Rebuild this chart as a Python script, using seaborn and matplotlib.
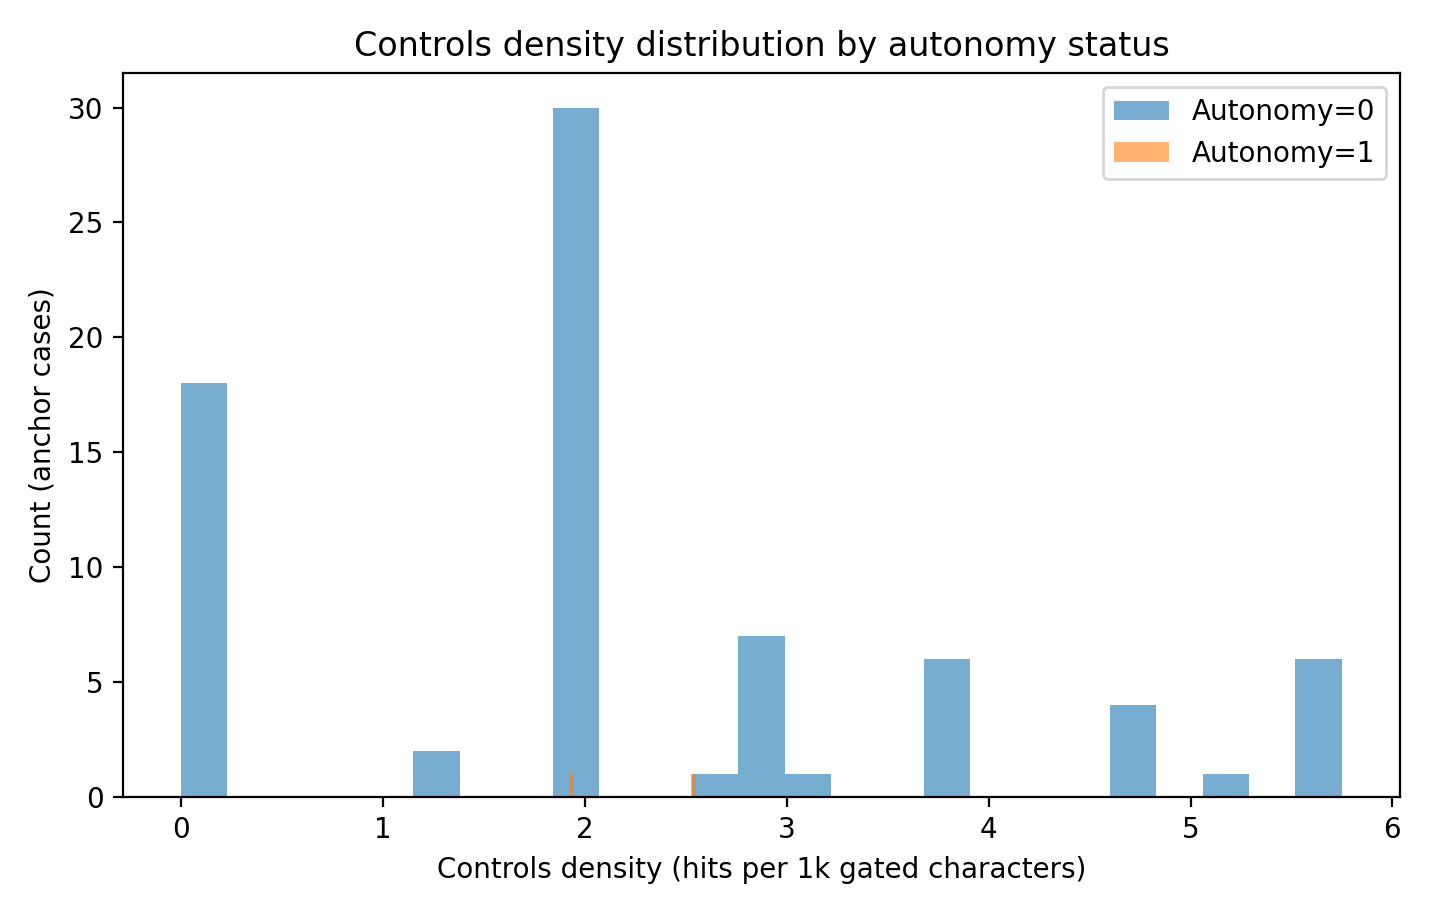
import numpy as np
import seaborn as sns
import matplotlib.pyplot as plt

# controls density values (hits per 1k gated characters) and how many cases sit at each
auto0_values = [0.0, 1.25, 1.95, 2.60, 2.85, 3.10, 3.80, 4.70, 5.15, 5.75]
auto0_counts = [18, 2, 30, 1, 7, 1, 6, 4, 1, 6]
auto1_values = [1.92, 2.55]
auto1_counts = [1, 1]

auto0 = np.repeat(auto0_values, auto0_counts)
auto1 = np.repeat(auto1_values, auto1_counts)

fig, ax = plt.subplots(figsize=(7.15, 4.565), dpi=200)
sns.histplot(x=auto0, bins=25, color='#1f77b4', alpha=0.6, linewidth=0, label='Autonomy=0', ax=ax)
sns.histplot(x=auto1, bins=25, color='#ff7f0e', alpha=0.6, linewidth=0, label='Autonomy=1', ax=ax)
ax.set_title('Controls density distribution by autonomy status')
ax.set_xlabel('Controls density (hits per 1k gated characters)')
ax.set_ylabel('Count (anchor cases)')
ax.legend(loc='upper right')
fig.subplots_adjust(left=0.086, right=0.979, top=0.920, bottom=0.127)
fig.savefig('out.png', dpi=200)
